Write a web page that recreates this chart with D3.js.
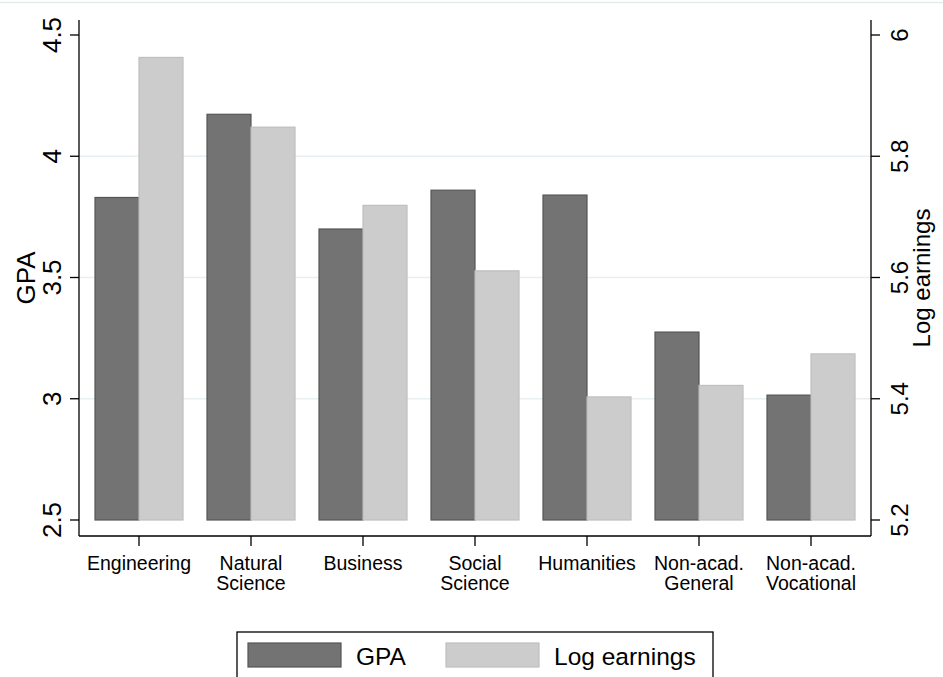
<!DOCTYPE html>
<html>
<head>
<meta charset="utf-8">
<script src="https://cdn.jsdelivr.net/npm/d3@7"></script>
<style>
html,body{margin:0;padding:0;background:#fff;}
svg{display:block;font-family:"Liberation Sans",Arial,sans-serif;}
</style>
</head>
<body>
<svg id="chart" width="943" height="677"></svg>
<script>
const categories = [["Engineering"],["Natural","Science"],["Business"],["Social","Science"],["Humanities"],["Non-acad.","General"],["Non-acad.","Vocational"]];
const gpa = [3.83, 4.173, 3.70, 3.86, 3.84, 3.275, 3.015];
const logEarnings = [5.963, 5.848, 5.719, 5.611, 5.403, 5.422, 5.474];
const gpaTicks = [2.5, 3, 3.5, 4, 4.5];
const earnTicks = [5.2, 5.4, 5.6, 5.8, 6];
const gridTicks = [3, 3.5, 4];

const svg = d3.select("#chart");
const pL = 79, pR = 871, pT = 20, pB = 536;
const keys = categories.map(c => c.join(" "));
const x = d3.scaleBand().domain(keys).range([83, 867]).paddingInner(0).paddingOuter(0);
const yL = d3.scaleLinear().domain([2.5, 4.5]).range([520, 35]);
const yR = d3.scaleLinear().domain([5.2, 6.0]).range([520, 35]);
const bw = 44;

// outer faint border
svg.append("line").attr("x1",0).attr("x2",943).attr("y1",2.5).attr("y2",2.5).attr("stroke","#e4ecee").attr("stroke-width",1.5);

// gridlines
svg.append("g").selectAll("line").data(gridTicks).join("line")
  .attr("x1",pL).attr("x2",pR)
  .attr("y1",d=>yL(d)).attr("y2",d=>yL(d))
  .attr("stroke","#e8eff2").attr("stroke-width",1.5);

// bars
const cx = k => x(k) + x.bandwidth()/2;
svg.append("g").selectAll("rect").data(keys).join("rect")
  .attr("x",k=>cx(k)-bw).attr("width",bw)
  .attr("y",(k,i)=>yL(gpa[i])).attr("height",(k,i)=>yL(2.5)-yL(gpa[i]))
  .attr("fill","#737373").attr("stroke","#555555").attr("stroke-width",1.2);
svg.append("g").selectAll("rect").data(keys).join("rect")
  .attr("x",k=>cx(k)).attr("width",bw)
  .attr("y",(k,i)=>yR(logEarnings[i])).attr("height",(k,i)=>yR(5.2)-yR(logEarnings[i]))
  .attr("fill","#cccccc").attr("stroke","#bfbfbf").attr("stroke-width",1.2);

// axes lines
const ax = svg.append("g").attr("stroke","#000").attr("stroke-width",1.3);
ax.append("line").attr("x1",pL).attr("x2",pL).attr("y1",pT).attr("y2",pB);
ax.append("line").attr("x1",pR).attr("x2",pR).attr("y1",pT).attr("y2",pB);
ax.append("line").attr("x1",pL).attr("x2",pR).attr("y1",pB).attr("y2",pB);

// left axis ticks
const lg = svg.append("g");
lg.selectAll("line").data(gpaTicks).join("line")
  .attr("x1",70).attr("x2",pL).attr("y1",d=>yL(d)).attr("y2",d=>yL(d))
  .attr("stroke","#000").attr("stroke-width",1.3);
lg.selectAll("text").data(gpaTicks).join("text")
  .attr("transform",d=>`translate(61,${yL(d)}) rotate(-90)`)
  .attr("text-anchor","middle").attr("font-size",26).text(d=>d3.format("")(d));

// right axis ticks
const rg = svg.append("g");
rg.selectAll("line").data(earnTicks).join("line")
  .attr("x1",pR).attr("x2",880).attr("y1",d=>yR(d)).attr("y2",d=>yR(d))
  .attr("stroke","#000").attr("stroke-width",1.3);
rg.selectAll("text").data(earnTicks).join("text")
  .attr("transform",d=>`translate(908,${yR(d)}) rotate(-90)`)
  .attr("text-anchor","middle").attr("font-size",24).text(d=>d3.format("")(d));

// axis titles
svg.append("text").attr("transform","translate(35,278) rotate(-90)")
  .attr("text-anchor","middle").attr("font-size",26).text("GPA");
svg.append("text").attr("transform","translate(930,278) rotate(-90)")
  .attr("text-anchor","middle").attr("font-size",24).text("Log earnings");

// x ticks and labels
const xg = svg.append("g");
xg.selectAll("line").data(keys).join("line")
  .attr("x1",cx).attr("x2",cx).attr("y1",pB).attr("y2",546)
  .attr("stroke","#000").attr("stroke-width",1.3);
const xt = xg.selectAll("text").data(categories).join("text")
  .attr("text-anchor","middle").attr("font-size",19.5);
xt.each(function(c,i){
  const t = d3.select(this);
  c.forEach((line,j)=>{
    t.append("tspan").attr("x",cx(keys[i])).attr("y",570 + j*20).text(line);
  });
});

// legend
const leg = svg.append("g");
leg.append("rect").attr("x",237).attr("y",632).attr("width",476).attr("height",60)
  .attr("fill","#fff").attr("stroke","#000").attr("stroke-width",1.3);
leg.append("rect").attr("x",248).attr("y",643).attr("width",93).attr("height",24)
  .attr("fill","#737373").attr("stroke","#555555").attr("stroke-width",1.2);
leg.append("text").attr("x",356).attr("y",665).attr("font-size",24.5).text("GPA");
leg.append("rect").attr("x",446).attr("y",643).attr("width",93).attr("height",24)
  .attr("fill","#cccccc").attr("stroke","#bfbfbf").attr("stroke-width",1.2);
leg.append("text").attr("x",554).attr("y",665).attr("font-size",24.5).text("Log earnings");
</script>
</body>
</html>
